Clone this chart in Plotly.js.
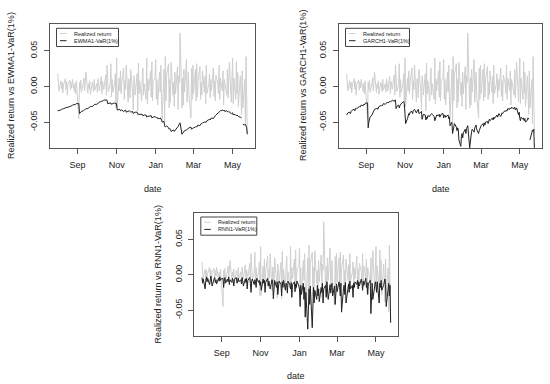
<!DOCTYPE html>
<html><head><meta charset="utf-8">
<script src="https://cdn.plot.ly/plotly-3.0.1.min.js"></script>
<style>html,body{margin:0;padding:0;background:#fff}#chart{width:550px;height:384px}</style>
</head><body><div id="chart"></div>
<script>
// ---- data (business days 2018-08-01 .. 2019-05-24) ----
const startDate = '2018-08-01';
const endDate = '2019-05-24';
const tickDates = ['2018-09-01','2018-11-01','2019-01-01','2019-03-01','2019-05-01'];
const tickLabels = ['Sep','Nov','Jan','Mar','May'];
const yTickVals = [-0.05, 0, 0.05];
const yTickLabels = ['-0.05','0.00','0.05'];
const seriesNames = ['Realized return','EWMA1-VaR(1%)','GARCH1-VaR(1%)','RNN1-VaR(1%)'];
const yTitles = ['Realized return vs EWMA1-VaR(1%)','Realized return vs GARCH1-VaR(1%)','Realized return vs RNN1-VaR(1%)'];

const realized = [
 .018,.004,-.006,.008,-.003,.006,-.009,.002,.011,-.004,.007,-.012,.003,.009,-.005,.006,-.002,.010,-.007,.004,-.010,.008,-.003,
 -.045,.006,-.004,.009,-.008,.005,.012,-.006,.003,.020,-.009,.004,-.003,.008,-.011,.006,.002,-.007,.010,-.005,
 .004,-.008,.011,.003,-.006,.014,-.010,.007,.002,-.004,.016,-.012,.030,.009,-.007,.003,.032,-.015,.010,-.008,.005,.018,-.030,
 .040,-.028,.012,-.006,.022,-.010,.005,.026,-.018,.008,-.004,.030,-.022,.011,.004,-.016,.024,-.008,-.033,.015,.006,-.012,
 .018,-.034,.033,-.010,.008,-.020,.014,.026,-.012,.004,-.018,.040,-.024,.010,-.006,.022,-.015,.035,-.020,.008,.012,
 .038,-.018,.010,-.026,.020,-.008,.030,-.014,-.046,.024,-.049,.042,-.020,.016,.032,-.030,.010,-.022,.034,-.012,.006,-.028,.020,
 -.010,.028,-.032,.015,.006,.075,-.030,.012,-.026,.024,-.008,.038,-.022,.010,.020,-.012,-.044,.026,-.018,.030,
 -.010,.024,-.020,.032,-.015,.008,.028,-.018,.006,-.012,.022,-.008,.014,-.024,.030,-.010,.004,.018,-.016,.010,-.006,
 .026,-.014,.008,-.020,.016,.004,-.010,.030,-.018,.012,-.006,.022,-.026,.010,.005,-.012,.024,-.016,.008,.034,-.022,.006,
 .040,-.024,.012,-.018,.035,-.010,.020,-.028,.015,-.006,-.039,.022,-.030,.010,-.052,.042,-.040,-.066
];
const ewmaVaR = [
 -.034,-.034,-.033,-.033,-.032,-.032,-.031,-.031,-.030,-.030,-.029,-.029,-.029,-.028,-.028,-.027,-.027,-.026,-.026,-.025,-.025,-.024,-.024,
 -.024,-.038,-.037,-.036,-.035,-.034,-.034,-.033,-.032,-.031,-.031,-.030,-.029,-.029,-.028,-.028,-.027,-.026,-.026,-.025,
 -.025,-.024,-.023,-.023,-.022,-.021,-.021,-.020,-.020,-.019,-.019,-.020,-.019,-.024,-.024,-.023,-.023,-.025,-.024,-.024,-.023,-.024,-.023,
 -.026,-.033,-.032,-.032,-.034,-.033,-.033,-.035,-.034,-.034,-.033,-.036,-.035,-.035,-.034,-.035,-.036,-.035,-.038,-.037,-.036,-.036,
 -.036,-.038,-.040,-.039,-.039,-.040,-.039,-.041,-.040,-.040,-.040,-.043,-.042,-.042,-.041,-.042,-.041,-.044,-.043,-.043,-.042,
 -.044,-.044,-.043,-.045,-.045,-.044,-.046,-.046,-.050,-.049,-.055,-.057,-.056,-.055,-.058,-.060,-.059,-.060,-.063,-.062,-.061,-.063,-.062,
 -.060,-.058,-.056,-.054,-.052,-.051,-.067,-.066,-.064,-.063,-.062,-.061,-.060,-.059,-.058,-.058,-.057,-.060,-.059,-.058,
 -.058,-.057,-.056,-.057,-.055,-.054,-.055,-.053,-.052,-.052,-.051,-.050,-.050,-.049,-.050,-.048,-.047,-.046,-.047,-.045,-.044,
 -.045,-.043,-.042,-.041,-.040,-.038,-.037,-.036,-.035,-.034,-.033,-.033,-.034,-.033,-.035,-.034,-.035,-.036,-.035,-.036,-.038,-.037,
 -.037,-.040,-.039,-.040,-.041,-.040,-.041,-.042,-.043,-.044,-.044,null,-.053,-.054,-.053,-.056,-.058,-.067
];
const garchVaR = [
 -.040,-.039,-.037,-.036,-.038,-.035,-.034,-.033,-.032,-.034,-.031,-.030,-.031,-.029,-.028,-.029,-.027,-.026,-.027,-.025,-.026,-.024,-.023,
 -.023,-.058,-.050,-.046,-.043,-.040,-.038,-.036,-.034,-.032,-.031,-.030,-.032,-.029,-.028,-.027,-.026,-.027,-.025,-.024,
 -.025,-.024,-.023,-.022,-.023,-.021,-.022,-.020,-.020,-.019,-.021,-.019,-.019,-.031,-.028,-.026,-.030,-.027,-.025,-.024,-.022,-.021,-.024,
 -.040,-.052,-.045,-.041,-.038,-.040,-.036,-.035,-.038,-.034,-.033,-.032,-.037,-.034,-.033,-.032,-.038,-.036,-.035,-.046,-.042,-.039,
 -.040,-.047,-.043,-.045,-.041,-.042,-.040,-.039,-.038,-.039,-.042,-.048,-.045,-.042,-.040,-.041,-.039,-.043,-.041,-.039,-.038,
 -.044,-.042,-.040,-.043,-.041,-.040,-.045,-.043,-.055,-.050,-.066,-.060,-.056,-.052,-.057,-.062,-.058,-.060,-.075,-.084,-.070,-.066,-.072,
 -.065,-.060,-.066,-.059,-.056,-.055,-.086,-.075,-.068,-.063,-.060,-.064,-.058,-.055,-.054,-.060,-.066,-.062,-.060,-.056,
 -.055,-.052,-.056,-.051,-.054,-.050,-.049,-.052,-.047,-.046,-.048,-.045,-.044,-.047,-.043,-.045,-.042,-.040,-.043,-.041,-.038,
 -.042,-.039,-.037,-.038,-.036,-.034,-.035,-.033,-.034,-.031,-.032,-.030,-.031,-.029,-.030,-.031,-.029,-.033,-.031,-.030,-.040,-.036,
 -.045,-.048,-.043,-.046,-.044,-.048,-.045,-.050,-.047,-.044,-.046,null,-.075,-.062,-.061,-.063,-.060,-.086
];
const rnnVaR = [
 -.004,-.012,-.006,-.020,-.008,-.003,-.010,-.005,-.014,-.007,-.002,-.009,-.016,-.006,-.004,-.011,-.007,-.013,-.005,-.009,-.003,-.008,-.006,
 -.005,-.018,-.009,-.004,-.012,-.006,-.010,-.003,-.014,-.007,-.011,-.005,-.009,-.016,-.006,-.004,-.012,-.008,-.005,-.010,
 -.007,-.013,-.004,-.009,-.016,-.006,-.011,-.005,-.020,-.008,-.004,-.012,-.025,-.009,-.006,-.014,-.007,-.010,-.018,-.005,-.011,-.008,-.015,
 -.010,-.022,-.006,-.012,-.008,-.025,-.011,-.005,-.016,-.009,-.013,-.020,-.007,-.012,-.034,-.015,-.008,-.018,-.010,-.028,-.012,-.009,
 -.014,-.030,-.010,-.018,-.008,-.022,-.012,-.016,-.026,-.009,-.015,-.020,-.011,-.032,-.014,-.010,-.024,-.013,-.018,-.009,-.016,
 -.020,-.045,-.015,-.028,-.012,-.035,-.018,-.060,-.025,-.077,-.030,-.020,-.042,-.016,-.075,-.028,-.018,-.040,-.022,-.035,-.015,-.030,-.020,
 -.038,-.018,-.025,-.012,-.040,-.020,-.015,-.032,-.010,-.022,-.035,-.014,-.026,-.018,-.012,-.030,-.016,-.042,-.020,-.013,
 -.024,-.010,-.018,-.030,-.012,-.053,-.020,-.015,-.028,-.011,-.040,-.018,-.013,-.025,-.009,-.020,-.015,-.032,-.012,-.018,-.010,
 -.014,-.008,-.020,-.010,-.016,-.006,-.012,-.022,-.009,-.015,-.005,-.018,-.011,-.028,-.013,-.008,-.055,-.020,-.012,-.035,-.014,-.010,
 -.016,-.025,-.010,-.040,-.012,-.018,-.008,-.022,-.015,-.009,-.006,-.014,-.045,-.020,-.012,-.030,-.015,-.068
];

// trading calendar (weekdays) between start and end
function businessDays(a, b) {
  const out = [];
  const d = new Date(a + 'T00:00:00Z'), e = new Date(b + 'T00:00:00Z');
  while (d <= e) {
    const wd = d.getUTCDay();
    if (wd !== 0 && wd !== 6) out.push(d.toISOString().slice(0, 10));
    d.setUTCDate(d.getUTCDate() + 1);
  }
  return out;
}
const dates = businessDays(startDate, endDate);

// ---- layout helpers (pixel -> paper) ----
const W = 550, H = 384;
const px = x => x / W, py = y => 1 - y / H;
const GRAY = '#cfcfcf', BLACK = '#222222', FRAME = '#555555', TXT = '#222222';
const FONT = 'Liberation Sans, Arial, sans-serif';

const panels = [
  {l: 50, r: 255, t: 24, b: 148, var: ewmaVaR, name: seriesNames[1], title: yTitles[0], tx: 11, legW: 62},
  {l: 339, r: 542, t: 24, b: 148, var: garchVaR, name: seriesNames[2], title: yTitles[1], tx: 303, legW: 64},
  {l: 194.3, r: 398.3, t: 212.7, b: 335.7, var: rnnVaR, name: seriesNames[3], title: yTitles[2], tx: 158.3, legW: 56}
];

const traces = [], shapes = [], annotations = [];
const layout = {
  width: W, height: H, margin: {l: 0, r: 0, t: 0, b: 0},
  paper_bgcolor: '#fff', plot_bgcolor: '#fff', showlegend: false,
  font: {family: FONT, color: TXT, size: 9}
};

panels.forEach((p, i) => {
  const s = i === 0 ? '' : String(i + 1);
  const xa = 'x' + s, ya = 'y' + s;
  traces.push({x: dates, y: realized, xaxis: xa, yaxis: ya, type: 'scatter', mode: 'lines',
    name: seriesNames[0], line: {color: GRAY, width: 1}, hoverinfo: 'skip'});
  traces.push({x: dates, y: p.var, xaxis: xa, yaxis: ya, type: 'scatter', mode: 'lines',
    name: p.name, line: {color: BLACK, width: 1}, connectgaps: false, hoverinfo: 'skip'});
  layout['xaxis' + s] = {
    domain: [px(p.l), px(p.r)], anchor: ya, type: 'date',
    range: ['2018-07-20', '2019-06-05'],
    tickmode: 'array', tickvals: tickDates, ticktext: tickLabels,
    ticks: 'outside', ticklen: 5, tickcolor: FRAME, tickwidth: 1,
    showline: true, mirror: true, linecolor: FRAME, linewidth: 1,
    showgrid: false, zeroline: false, ticklabelstandoff: 3,
    tickfont: {family: FONT, size: 9, color: TXT}
  };
  layout['yaxis' + s] = {
    domain: [py(p.b), py(p.t)], anchor: xa,
    range: [-0.0863, 0.0878],
    tickmode: 'array', tickvals: yTickVals, ticktext: yTickLabels, tickangle: -90,
    ticks: 'outside', ticklen: 5, tickcolor: FRAME, tickwidth: 1,
    showline: true, mirror: true, linecolor: FRAME, linewidth: 1,
    showgrid: false, zeroline: false, ticklabelstandoff: 3,
    tickfont: {family: FONT, size: 9, color: TXT}
  };
  // axis titles
  annotations.push({xref: 'paper', yref: 'paper', x: px(p.tx), y: py((p.t + p.b) / 2),
    text: p.title, textangle: -90, showarrow: false, xanchor: 'center', yanchor: 'middle',
    font: {family: FONT, size: 9, color: TXT}});
  annotations.push({xref: 'paper', yref: 'paper', x: px((p.l + p.r) / 2), y: py(p.b + 40.5),
    text: 'date', showarrow: false, xanchor: 'center', yanchor: 'middle',
    font: {family: FONT, size: 9, color: TXT}});
  // legend box
  const bl = p.l + 6.5, bt = p.t + 4.3;
  shapes.push({type: 'rect', xref: 'paper', yref: 'paper', x0: px(bl), x1: px(bl + p.legW),
    y0: py(bt + 18.2), y1: py(bt), line: {color: '#444', width: 1}, fillcolor: 'rgba(255,255,255,0)'});
  const rows = [[seriesNames[0], GRAY], [p.name, BLACK]];
  rows.forEach((r, k) => {
    const yy = bt + 5.2 + k * 7.2;
    shapes.push({type: 'line', xref: 'paper', yref: 'paper', x0: px(bl + 3.5), x1: px(bl + 10),
      y0: py(yy), y1: py(yy), line: {color: r[1], width: 1}});
    annotations.push({xref: 'paper', yref: 'paper', x: px(bl + 15.5), y: py(yy), text: r[0],
      showarrow: false, xanchor: 'left', yanchor: 'middle',
      font: {family: FONT, size: 5.5, color: TXT}});
  });
});
layout.shapes = shapes;
layout.annotations = annotations;

Plotly.newPlot('chart', traces, layout, {staticPlot: true, displayModeBar: false});
</script>
</body></html>
